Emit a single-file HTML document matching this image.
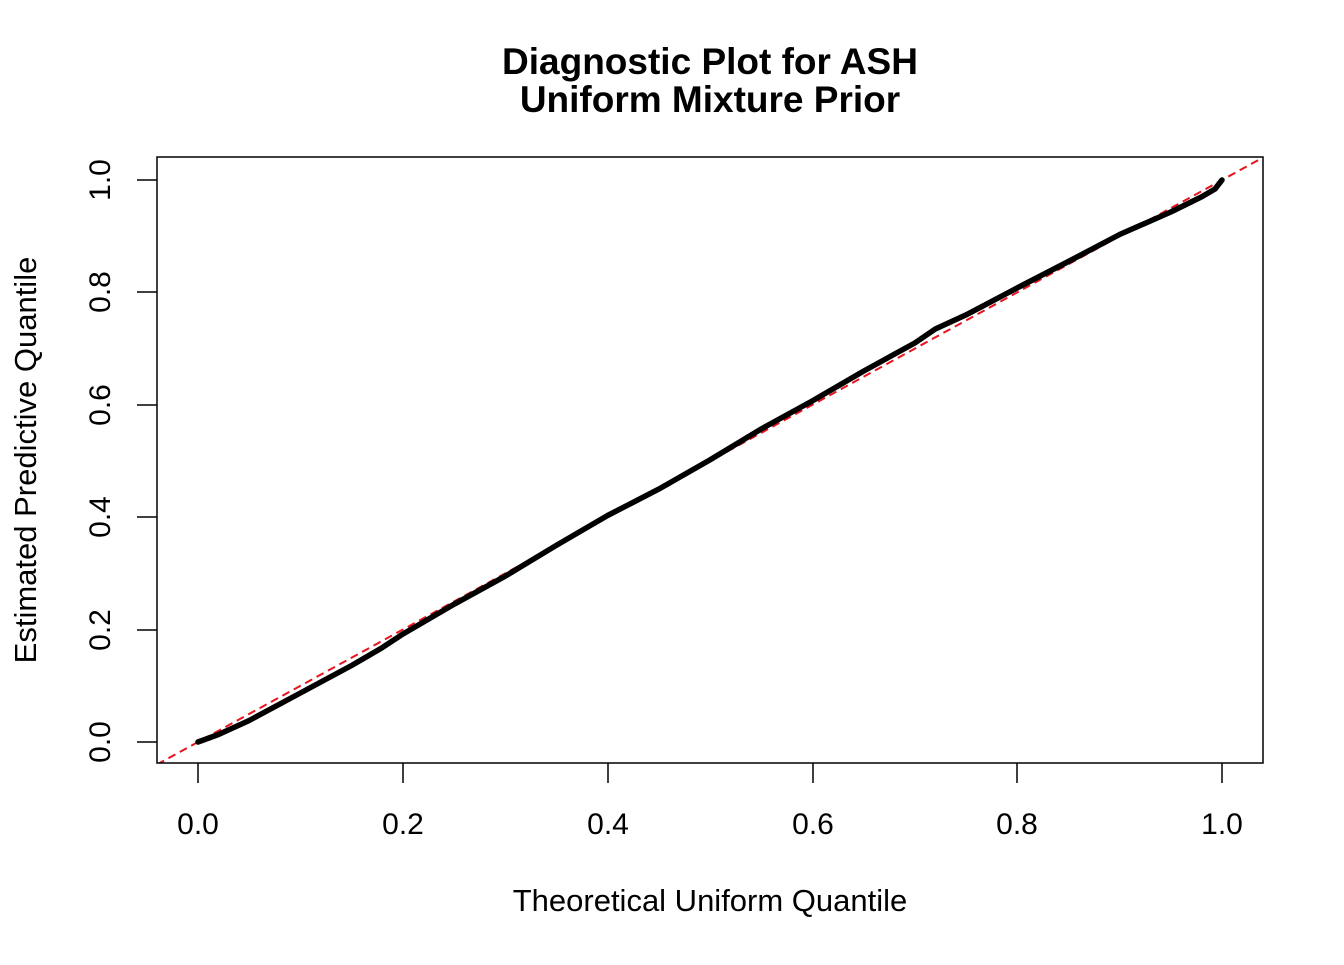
<!DOCTYPE html>
<html><head><style>body{margin:0;background:#fff}</style></head><body>
<svg width="1344" height="960" xmlns="http://www.w3.org/2000/svg" font-family="Liberation Sans, sans-serif">
<rect width="1344" height="960" fill="#fff"/>
<text x="710" y="74" text-anchor="middle" font-size="37" font-weight="bold">Diagnostic Plot for ASH</text>
<text x="710" y="112" text-anchor="middle" font-size="37" font-weight="bold">Uniform Mixture Prior</text>
<defs><clipPath id="c"><rect x="157" y="157" width="1106" height="606"/></clipPath></defs>
<line x1="157" y1="764.5" x2="1263" y2="157.5" stroke="#e8141e" stroke-width="2" stroke-dasharray="8,5" clip-path="url(#c)"/>
<polyline fill="none" stroke="#000" stroke-width="5.5" stroke-linejoin="round" stroke-linecap="round" points="198,742 218.5,734.5 249.2,720.5 300.4,693 351.6,665.5 382.3,647.6 402.8,634.1 454,604.3 505.2,576.2 556.4,545.3 607.6,515.5 658.8,489.1 710,459.9 761.2,429 812.4,400.9 863.6,371.1 914.8,343 935.3,329 966,314.9 1017.2,287.9 1068.4,261.5 1119.6,234.5 1170.8,212 1201.5,196.9 1215,189 1222,180"/>
<rect x="157" y="157" width="1106" height="606" fill="none" stroke="#000" stroke-width="1.5"/>
<g stroke="#000" stroke-width="1.5">
<line x1="198" y1="763" x2="198" y2="783"/><line x1="403" y1="763" x2="403" y2="783"/><line x1="608" y1="763" x2="608" y2="783"/><line x1="813" y1="763" x2="813" y2="783"/><line x1="1017" y1="763" x2="1017" y2="783"/><line x1="1222" y1="763" x2="1222" y2="783"/>
<line x1="137" y1="742" x2="157" y2="742"/><line x1="137" y1="630" x2="157" y2="630"/><line x1="137" y1="517" x2="157" y2="517"/><line x1="137" y1="405" x2="157" y2="405"/><line x1="137" y1="292" x2="157" y2="292"/><line x1="137" y1="180" x2="157" y2="180"/>
</g>
<g font-size="30" text-anchor="middle">
<text x="198" y="834">0.0</text><text x="403" y="834">0.2</text><text x="608" y="834">0.4</text><text x="813" y="834">0.6</text><text x="1017" y="834">0.8</text><text x="1222" y="834">1.0</text>
<text transform="translate(110,742) rotate(-90)">0.0</text><text transform="translate(110,630) rotate(-90)">0.2</text><text transform="translate(110,517) rotate(-90)">0.4</text><text transform="translate(110,405) rotate(-90)">0.6</text><text transform="translate(110,292) rotate(-90)">0.8</text><text transform="translate(110,180) rotate(-90)">1.0</text>
<text x="710" y="911" font-size="31">Theoretical Uniform Quantile</text>
<text transform="translate(36,460) rotate(-90)" font-size="31">Estimated Predictive Quantile</text>
</g>
</svg>
</body></html>
